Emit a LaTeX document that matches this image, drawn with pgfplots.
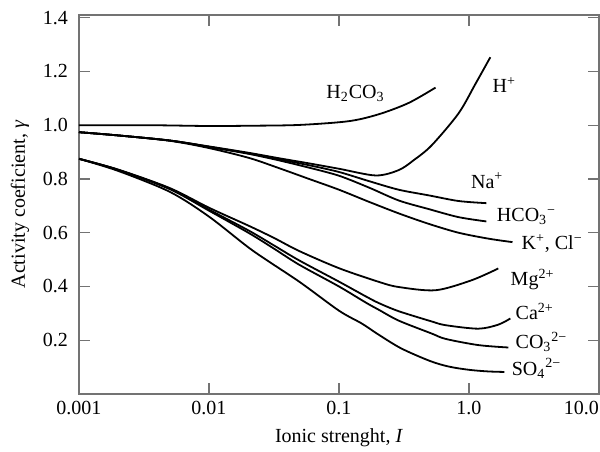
\documentclass[border=0pt]{standalone}
\usepackage{fontspec}
\setmainfont{Liberation Serif}
\usepackage{pgfplots}
\pgfplotsset{compat=1.18}
\pgfplotsset{curve/.style={black, line width=0.9pt, smooth, mark=none}}

% activity coefficients (x = ionic strength)
\pgfplotstableread{
x      y
0.001  1.000
0.0035 1.000
0.01   0.997
0.0204 0.998
0.0494 1.001
0.119  1.015
0.203  1.041
0.344  1.083
0.553  1.140
}\hcoiii
\pgfplotstableread{
x      y
0.001  0.974
0.002  0.962
0.005  0.943
0.01   0.921
0.0204 0.897
0.0347 0.877
0.0589 0.858
0.1    0.838
0.192  0.813
0.288  0.833
0.376  0.870
0.516  0.925
0.831  1.044
1.122  1.154
1.46   1.253
}\hplus
\pgfplotstableread{
x      y
0.001  0.974
0.002  0.962
0.005  0.943
0.01   0.920
0.0204 0.895
0.0347 0.873
0.0589 0.851
0.1    0.826
0.170  0.792
0.288  0.760
0.490  0.739
0.831  0.718
1.36   0.710
}\naplus
\pgfplotstableread{
x      y
0.001  0.974
0.002  0.962
0.005  0.943
0.01   0.919
0.0204 0.893
0.0347 0.869
0.0589 0.842
0.1    0.812
0.170  0.768
0.288  0.720
0.490  0.688
0.831  0.658
1.36   0.642
}\bicarb
\pgfplotstableread{
x      y
0.001  0.974
0.002  0.962
0.005  0.942
0.01   0.915
0.0204 0.878
0.0347 0.840
0.0589 0.800
0.1    0.760
0.170  0.715
0.288  0.672
0.490  0.633
0.831  0.600
1.41   0.578
2.16   0.565
}\kcl
\pgfplotstableread{
x      y
0.001  0.875
0.002  0.835
0.005  0.766
0.01   0.693
0.0204 0.625
0.0318 0.580
0.0494 0.532
0.1    0.468
0.203  0.417
0.288  0.398
0.553  0.386
1.045  0.423
1.68   0.467
}\mg
\pgfplotstableread{
x      y
0.001  0.875
0.002  0.834
0.005  0.764
0.01   0.686
0.0204 0.607
0.0318 0.552
0.0494 0.497
0.1    0.418
0.161  0.363
0.203  0.338
0.288  0.308
0.516  0.270
0.661  0.256
1.18   0.243
1.68   0.258
2.08   0.281
}\ca
\pgfplotstableread{
x      y
0.001  0.875
0.002  0.834
0.005  0.762
0.01   0.682
0.0204 0.598
0.0318 0.540
0.0494 0.481
0.1    0.400
0.161  0.340
0.203  0.313
0.288  0.273
0.516  0.225
0.661  0.205
1.18   0.182
2.01   0.173
}\coiii
\pgfplotstableread{
x      y
0.001  0.875
0.002  0.830
0.005  0.752
0.01   0.660
0.0215 0.535
0.0494 0.418
0.1    0.310
0.15   0.262
0.2    0.222
0.3    0.170
0.5    0.123
0.7    0.102
1.0    0.090
1.4    0.084
1.87   0.082
}\soiv

\begin{document}
\begin{tikzpicture}
\useasboundingbox (-39.5pt,-28.6pt) rectangle (260.5pt,197pt);
\begin{axis}[
    at={(0,0)}, anchor=south west,
    scale only axis,
    width=260pt, height=189.5pt,
    xmode=log,
    xmin=0.001, xmax=10,
    ymin=0, ymax=1.41,
    xtick={0.001,0.01,0.1,1,10},
    xticklabels={0.001,0.01,0.1,1.0,\llap{10.0}},
    ytick={0.2,0.4,0.6,0.8,1.0,1.2,1.4},
    yticklabels={0.2,0.4,0.6,0.8,1.0,1.2,1.4},
    xminorticks=false, yminorticks=false,
    tick align=inside,
    major tick length=5.5pt,
    axis line style={black!55, line width=0.6pt},
    tick style={black!55, line width=0.6pt},
    yticklabel style={xshift=-2pt},
    xlabel={Ionic strenght, \textit{I}},
    ylabel={Activity coeficient, \textit{γ}},
]
\addplot[curve] table {\hcoiii};
\addplot[curve] table {\hplus};
\addplot[curve] table {\naplus};
\addplot[curve] table {\bicarb};
\addplot[curve] table {\kcl};
\addplot[curve] table {\mg};
\addplot[curve] table {\ca};
\addplot[curve] table {\coiii};
\addplot[curve] table {\soiv};

\node[anchor=base west, inner sep=0pt] at (axis cs:0.0795,1.10) {H\textsubscript{2}CO\textsubscript{3}};
\node[anchor=base west, inner sep=0pt] at (axis cs:1.51,1.121) {H\textsuperscript{+}};
\node[anchor=base west, inner sep=0pt] at (axis cs:1.03,0.766) {Na\textsuperscript{+}};
\node[anchor=base west, inner sep=0pt] at (axis cs:1.63,0.640) {HCO\textsubscript{3}\textsuperscript{−}};
\node[anchor=base west, inner sep=0pt] at (axis cs:2.52,0.537) {K\textsuperscript{+}, Cl\textsuperscript{−}};
\node[anchor=base west, inner sep=0pt] at (axis cs:2.08,0.404) {Mg\textsuperscript{2+}};
\node[anchor=base west, inner sep=0pt] at (axis cs:2.27,0.277) {Ca\textsuperscript{2+}};
\node[anchor=base west, inner sep=0pt] at (axis cs:2.27,0.169) {CO\textsubscript{3}\textsuperscript{2−}};
\node[anchor=base west, inner sep=0pt] at (axis cs:2.12,0.070) {SO\textsubscript{4}\textsuperscript{2−}};
\end{axis}
\end{tikzpicture}
\end{document}
